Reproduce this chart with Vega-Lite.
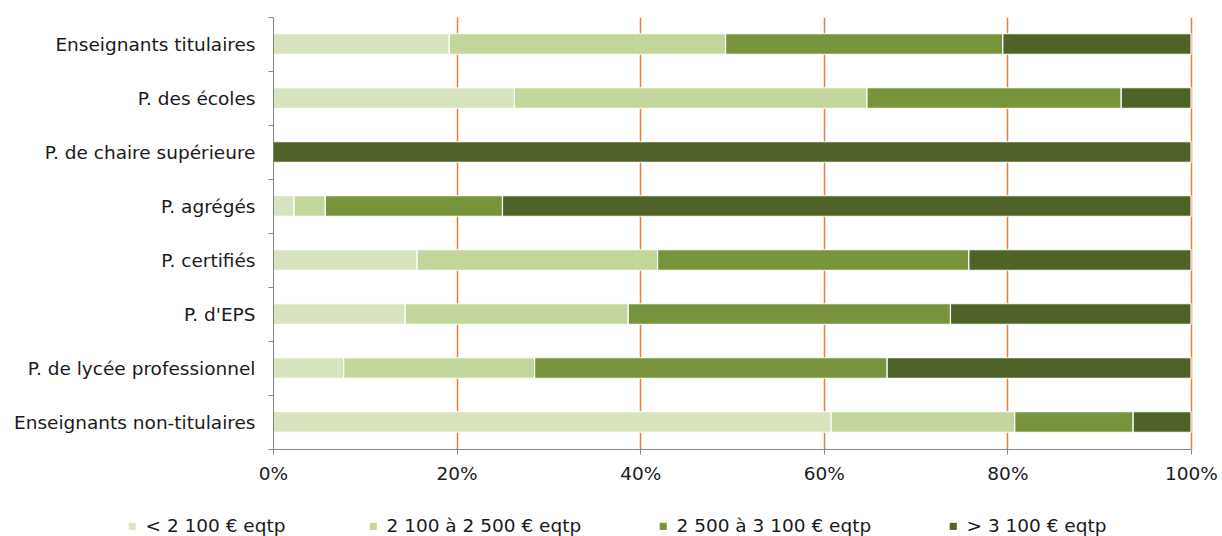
{
  "$schema": "https://vega.github.io/schema/vega-lite/v6.json",
  "width": 918,
  "height": 432,
  "autosize": {"type": "none"},
  "padding": {"left": 273, "top": 17, "right": 31, "bottom": 87},
  "background": "white",
  "config": {
    "view": {"stroke": null},
    "font": "DejaVu Sans",
    "axis": {"labelFont": "DejaVu Sans", "labelColor": "#1a1a1a", "labelFontSize": 18.5, "labelLimit": 400}
  },
  "data": {
    "values": [
      {"corps": "Enseignants titulaires", "tranche": "<  2 100 € eqtp", "rang": 1, "part": 19.2},
      {"corps": "Enseignants titulaires", "tranche": "2 100 à 2 500 € eqtp", "rang": 2, "part": 30.1},
      {"corps": "Enseignants titulaires", "tranche": "2 500 à 3 100 € eqtp", "rang": 3, "part": 30.2},
      {"corps": "Enseignants titulaires", "tranche": "> 3 100 € eqtp", "rang": 4, "part": 20.5},
      {"corps": "P. des écoles", "tranche": "<  2 100 € eqtp", "rang": 1, "part": 26.3},
      {"corps": "P. des écoles", "tranche": "2 100 à 2 500 € eqtp", "rang": 2, "part": 38.4},
      {"corps": "P. des écoles", "tranche": "2 500 à 3 100 € eqtp", "rang": 3, "part": 27.7},
      {"corps": "P. des écoles", "tranche": "> 3 100 € eqtp", "rang": 4, "part": 7.6},
      {"corps": "P. de chaire supérieure", "tranche": "<  2 100 € eqtp", "rang": 1, "part": 0},
      {"corps": "P. de chaire supérieure", "tranche": "2 100 à 2 500 € eqtp", "rang": 2, "part": 0},
      {"corps": "P. de chaire supérieure", "tranche": "2 500 à 3 100 € eqtp", "rang": 3, "part": 0},
      {"corps": "P. de chaire supérieure", "tranche": "> 3 100 € eqtp", "rang": 4, "part": 100},
      {"corps": "P. agrégés", "tranche": "<  2 100 € eqtp", "rang": 1, "part": 2.3},
      {"corps": "P. agrégés", "tranche": "2 100 à 2 500 € eqtp", "rang": 2, "part": 3.4},
      {"corps": "P. agrégés", "tranche": "2 500 à 3 100 € eqtp", "rang": 3, "part": 19.3},
      {"corps": "P. agrégés", "tranche": "> 3 100 € eqtp", "rang": 4, "part": 75.0},
      {"corps": "P. certifiés", "tranche": "<  2 100 € eqtp", "rang": 1, "part": 15.7},
      {"corps": "P. certifiés", "tranche": "2 100 à 2 500 € eqtp", "rang": 2, "part": 26.2},
      {"corps": "P. certifiés", "tranche": "2 500 à 3 100 € eqtp", "rang": 3, "part": 33.9},
      {"corps": "P. certifiés", "tranche": "> 3 100 € eqtp", "rang": 4, "part": 24.2},
      {"corps": "P. d'EPS", "tranche": "<  2 100 € eqtp", "rang": 1, "part": 14.4},
      {"corps": "P. d'EPS", "tranche": "2 100 à 2 500 € eqtp", "rang": 2, "part": 24.3},
      {"corps": "P. d'EPS", "tranche": "2 500 à 3 100 € eqtp", "rang": 3, "part": 35.1},
      {"corps": "P. d'EPS", "tranche": "> 3 100 € eqtp", "rang": 4, "part": 26.2},
      {"corps": "P. de lycée professionnel", "tranche": "<  2 100 € eqtp", "rang": 1, "part": 7.7},
      {"corps": "P. de lycée professionnel", "tranche": "2 100 à 2 500 € eqtp", "rang": 2, "part": 20.8},
      {"corps": "P. de lycée professionnel", "tranche": "2 500 à 3 100 € eqtp", "rang": 3, "part": 38.4},
      {"corps": "P. de lycée professionnel", "tranche": "> 3 100 € eqtp", "rang": 4, "part": 33.1},
      {"corps": "Enseignants non-titulaires", "tranche": "<  2 100 € eqtp", "rang": 1, "part": 60.8},
      {"corps": "Enseignants non-titulaires", "tranche": "2 100 à 2 500 € eqtp", "rang": 2, "part": 20.0},
      {"corps": "Enseignants non-titulaires", "tranche": "2 500 à 3 100 € eqtp", "rang": 3, "part": 12.9},
      {"corps": "Enseignants non-titulaires", "tranche": "> 3 100 € eqtp", "rang": 4, "part": 6.3}
    ]
  },
  "mark": {"type": "bar", "stroke": "white", "strokeWidth": 1.2, "height": {"band": 0.38}},
  "encoding": {
    "y": {
      "field": "corps",
      "type": "nominal",
      "sort": null,
      "scale": {
        "domain": ["Enseignants titulaires", "P. des écoles", "P. de chaire supérieure", "P. agrégés", "P. certifiés", "P. d'EPS", "P. de lycée professionnel", "Enseignants non-titulaires"],
        "paddingInner": 0,
        "paddingOuter": 0
      },
      "axis": {
        "title": null,
        "tickBand": "extent",
        "domainColor": "#868686",
        "tickColor": "#868686",
        "tickSize": 5,
        "labelPadding": 13,
        "zindex": 1
      }
    },
    "x": {
      "field": "part",
      "type": "quantitative",
      "stack": "zero",
      "scale": {"domain": [0, 100], "nice": false},
      "axis": {
        "title": null,
        "values": [0, 20, 40, 60, 80, 100],
        "labelExpr": "datum.value + '%'",
        "labelFlush": false,
        "domainColor": "#868686",
        "tickColor": "#868686",
        "tickSize": 5,
        "labelPadding": 10,
        "grid": true,
        "gridColor": {"condition": {"test": "datum.value === 0", "value": "transparent"}, "value": "#ED7D31"},
        "gridWidth": 1.5
      }
    },
    "color": {
      "field": "tranche",
      "type": "nominal",
      "scale": {
        "domain": ["<  2 100 € eqtp", "2 100 à 2 500 € eqtp", "2 500 à 3 100 € eqtp", "> 3 100 € eqtp"],
        "range": ["#D7E4BD", "#C3D69B", "#77933C", "#4F6228"]
      },
      "legend": {
        "title": null,
        "orient": "none",
        "legendX": -150,
        "legendY": 500,
        "direction": "horizontal",
        "columns": 4,
        "columnPadding": 72,
        "symbolType": "square",
        "symbolSize": 50,
        "symbolStrokeWidth": 0,
        "labelFont": "DejaVu Sans",
        "labelFontSize": 18.5,
        "labelColor": "#1a1a1a",
        "labelOffset": 4,
        "labelLimit": 400
      }
    },
    "order": {"field": "rang", "type": "quantitative"}
  }
}
